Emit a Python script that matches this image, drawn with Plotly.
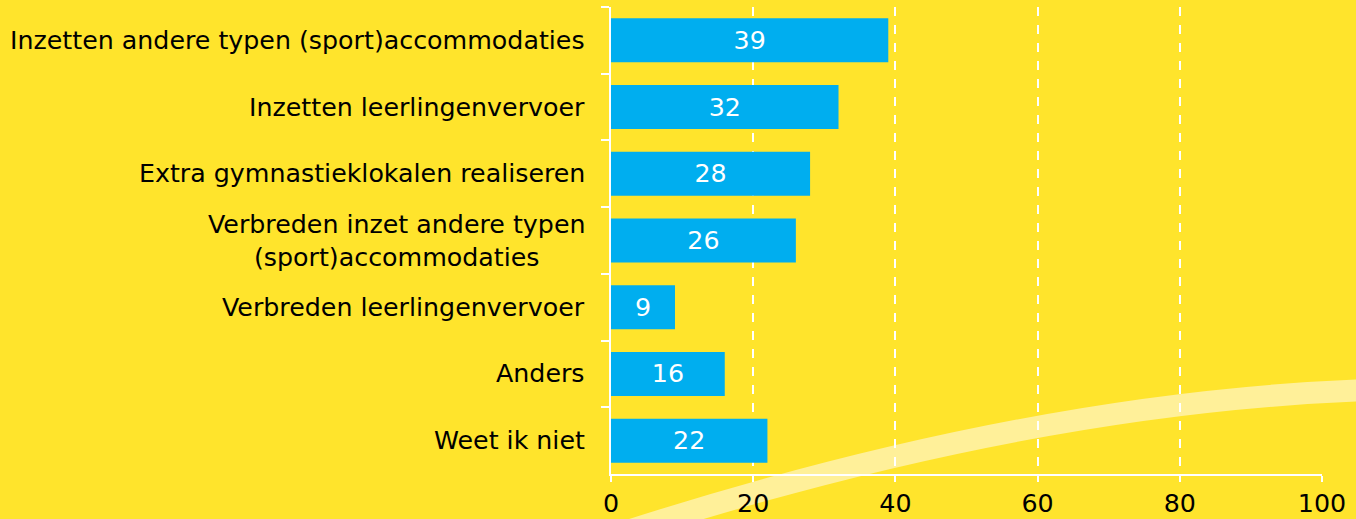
import plotly.graph_objects as go

categories = [
    "Inzetten andere typen (sport)accommodaties",
    "Inzetten leerlingenvervoer",
    "Extra gymnastieklokalen realiseren",
    "Verbreden inzet andere typen<br>(sport)accommodaties",
    "Verbreden leerlingenvervoer",
    "Anders",
    "Weet ik niet",
]
values = [39, 32, 28, 26, 9, 16, 22]
x_ticks = [0, 20, 40, 60, 80, 100]

BG = "#FFE42C"
BAR = "#00AEEF"
ARC = "#FFF099"
FONT = "DejaVu Sans"
FS = 25.3

W, H = 1356, 519
L, R, T, B = 611, 34, 7, 45
pw, ph = W - L - R, H - T - B

fig = go.Figure()
fig.add_trace(go.Bar(
    y=categories, x=values, orientation="h",
    marker=dict(color=BAR, line=dict(width=0)),
    text=[str(v) for v in values], textposition="inside",
    insidetextanchor="middle",
    textfont=dict(color="white", size=FS, family=FONT),
    hoverinfo="skip",
))

for c in categories:
    fig.add_annotation(
        x=0, y=c, xref="x", yref="y", text=c, showarrow=False,
        xanchor="right", yanchor="middle", align="center", xshift=-24,
        font=dict(size=FS, color="black", family=FONT),
    )

def px(xp, yp):
    return (xp - L) / pw, (H - B - yp) / ph

p0 = px(600, 540); p1 = px(1050, 392); p2 = px(1420, 389)
fig.add_shape(
    type="path", xref="paper", yref="paper", layer="below",
    path=f"M {p0[0]},{p0[1]} Q {p1[0]},{p1[1]} {p2[0]},{p2[1]}",
    line=dict(color=ARC, width=22),
)

fig.update_layout(
    width=W, height=H,
    margin=dict(l=L, r=R, t=T, b=B, pad=0, autoexpand=False),
    paper_bgcolor=BG, plot_bgcolor="rgba(0,0,0,0)",
    bargap=0.34, showlegend=False,
    font=dict(family=FONT, size=FS, color="black"),
)
fig.update_xaxes(
    range=[0, 100], tickvals=x_ticks, ticktext=[str(t) for t in x_ticks],
    showgrid=True, gridcolor="white", griddash="dash", gridwidth=1.5,
    zeroline=False, showline=True, linecolor="white", linewidth=2,
    ticks="outside", ticklen=6, tickcolor="white", tickwidth=2,
    ticklabelstandoff=0, automargin=False,
    tickfont=dict(size=FS, color="black", family=FONT),
    fixedrange=True,
)
fig.update_yaxes(
    autorange="reversed", showgrid=False, zeroline=False,
    showline=True, linecolor="white", linewidth=2,
    ticks="outside", ticklen=8, tickcolor="white", tickwidth=2,
    tickson="boundaries", showticklabels=False, fixedrange=True,
    automargin=False,
)

fig.write_html(
    "out.html",
    config={"displayModeBar": False},
    post_script="document.body.style.margin='0';document.body.style.background='%s';" % BG,
)
